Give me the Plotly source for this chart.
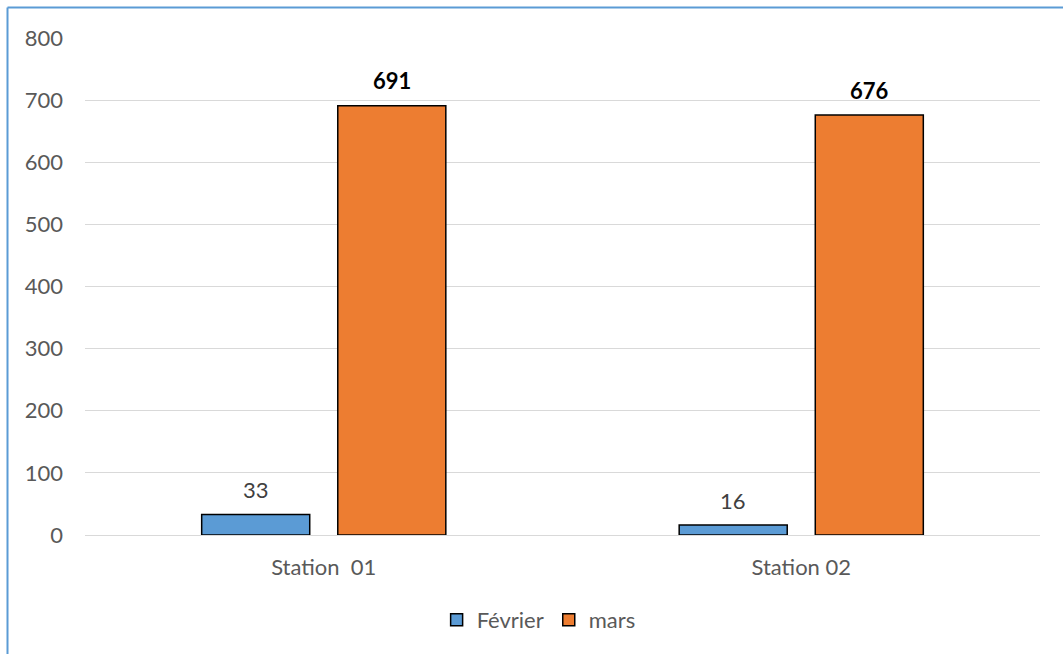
import plotly.graph_objects as go

categories = ["Station  01", "Station 02"]
fevrier = [33, 16]
mars = [691, 676]
y_ticks = [0, 100, 200, 300, 400, 500, 600, 700, 800]

FONT = "Lato"
GRAY = "#595959"
FS = 22

W, H = 1063, 654
L, R, T, B = 85, 23, 38, 119
pw, ph = W - L - R, H - T - B
bargap, bargroupgap = 0.43, 0.206
slot_px = pw / len(categories) * (1 - bargap) / 2

fig = go.Figure()
fig.add_trace(go.Bar(
    name="Février", x=categories, y=fevrier,
    marker=dict(color="#5B9BD5", line=dict(color="black", width=1.5)),
))
fig.add_trace(go.Bar(
    name="mars", x=categories, y=mars,
    marker=dict(color="#ED7D31", line=dict(color="black", width=1.5)),
))

annotations = []
for cat, v in zip(categories, fevrier):
    annotations.append(dict(x=cat, y=v, xref="x", yref="y", text=str(v), showarrow=False,
                            xshift=-slot_px / 2, yshift=25, yanchor="middle",
                            font=dict(family=FONT, size=FS, color="#404040")))
for cat, v in zip(categories, mars):
    annotations.append(dict(x=cat, y=v, xref="x", yref="y", text=f"<b>{v}</b>", showarrow=False,
                            xshift=slot_px / 2, yshift=25, yanchor="middle",
                            font=dict(family=FONT, size=FS, color="black")))

bx = (7.5 - L) / pw
by = 1 + (T - 7.5) / ph

fig.update_layout(
    width=W, height=H,
    margin=dict(l=L, r=R, t=T, b=B),
    paper_bgcolor="white", plot_bgcolor="white",
    barmode="group", bargap=bargap, bargroupgap=bargroupgap,
    font=dict(family=FONT, size=FS, color=GRAY),
    showlegend=True,
    legend=dict(orientation="h", x=0.475, xanchor="center", y=-0.171, yanchor="middle",
                font=dict(family=FONT, size=FS, color=GRAY), itemwidth=30,
                traceorder="normal"),
    yaxis=dict(range=[0, 800], tickvals=y_ticks, showgrid=True, gridcolor="#D9D9D9",
               gridwidth=1, zeroline=True, zerolinecolor="#D9D9D9", zerolinewidth=1,
               showline=False, ticks="", ticklabelstandoff=21,
               tickfont=dict(family=FONT, size=FS, color=GRAY)),
    xaxis=dict(showline=False, ticks="", ticklabelstandoff=17,
               tickfont=dict(family=FONT, size=FS, color=GRAY)),
    annotations=annotations,
    shapes=[
        dict(type="line", xref="paper", yref="paper", x0=bx, x1=bx, y0=by, y1=-0.5,
             line=dict(color="#5B9BD5", width=2)),
        dict(type="line", xref="paper", yref="paper", x0=bx, x1=1.2, y0=by, y1=by,
             line=dict(color="#5B9BD5", width=2)),
    ],
)

fig.write_html("out.html")
